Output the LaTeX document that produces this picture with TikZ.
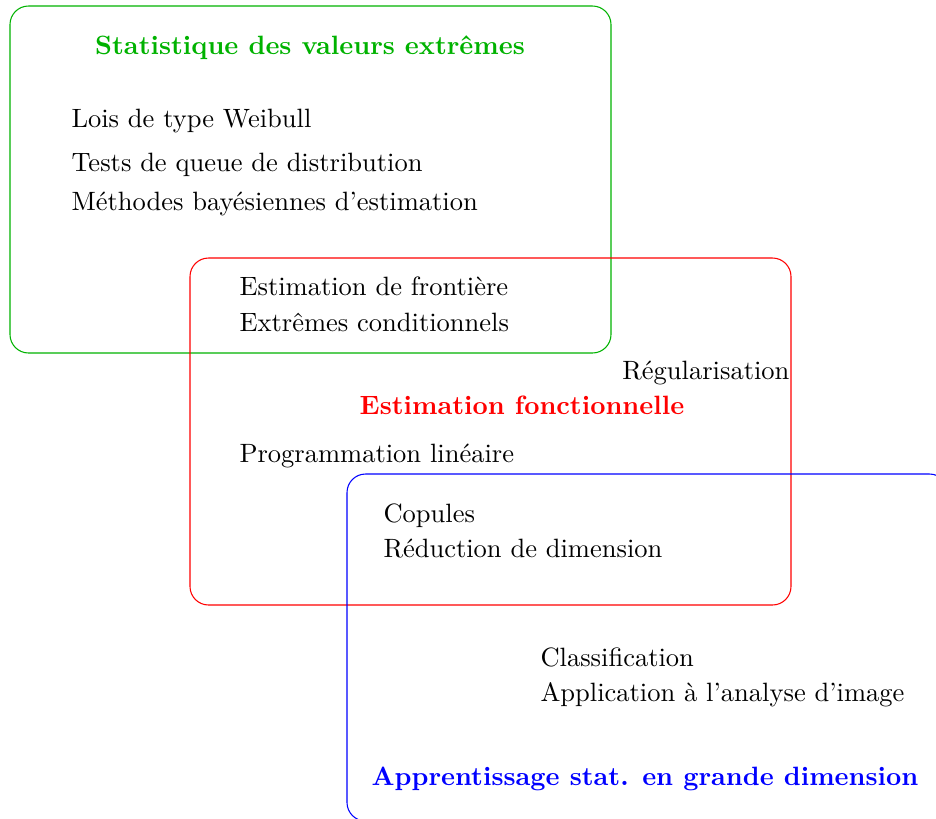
\documentclass[tikz,border=0pt]{standalone}
\begin{document}
\begin{tikzpicture}[x=0.01326cm, y=-0.01326cm,
    theme/.style={rounded corners=7pt},
    item/.style={anchor=base west, inner sep=0pt},
    titre/.style={anchor=base, inner sep=0pt, font=\bfseries}]
    \useasboundingbox (0,0) rectangle (936,818);
    % les trois domaines
    \draw[theme, green!70!black] (10,6) rectangle (611,353);
    \draw[theme, red] (190,258) rectangle (791,605);
    \draw[theme, blue] (347,474) rectangle (948,821);
    % valeurs extremes
    \node[titre, green!70!black] (sve) at (310,54) {Statistique des valeurs extrêmes};
    \node[item] (weib) at (71,127) {Lois de type Weibull};
    \node[item] (tests) at (71,171) {Tests de queue de distribution};
    \node[item] (bayes) at (71,210) {Méthodes bayésiennes d'estimation};
    \node[item] (front) at (239,295) {Estimation de frontière};
    \node[item] (cond) at (239,331) {Extrêmes conditionnels};
    % estimation fonctionnelle
    \node[anchor=base east, inner sep=0pt] (regul) at (790,379) {Régularisation};
    \node[titre, red] (ef) at (522,414) {Estimation fonctionnelle};
    \node[item] (prog) at (239,462) {Programmation linéaire};
    \node[item] (cop) at (383,522) {Copules};
    \node[item] (red) at (383,557) {Réduction de dimension};
    % apprentissage
    \node[item] (classif) at (540,666) {Classification};
    \node[item] (image) at (540,701) {Application à l'analyse d'image};
    \node[titre, blue] (app) at (645,785) {Apprentissage stat. en grande dimension};
\end{tikzpicture}
\end{document}
